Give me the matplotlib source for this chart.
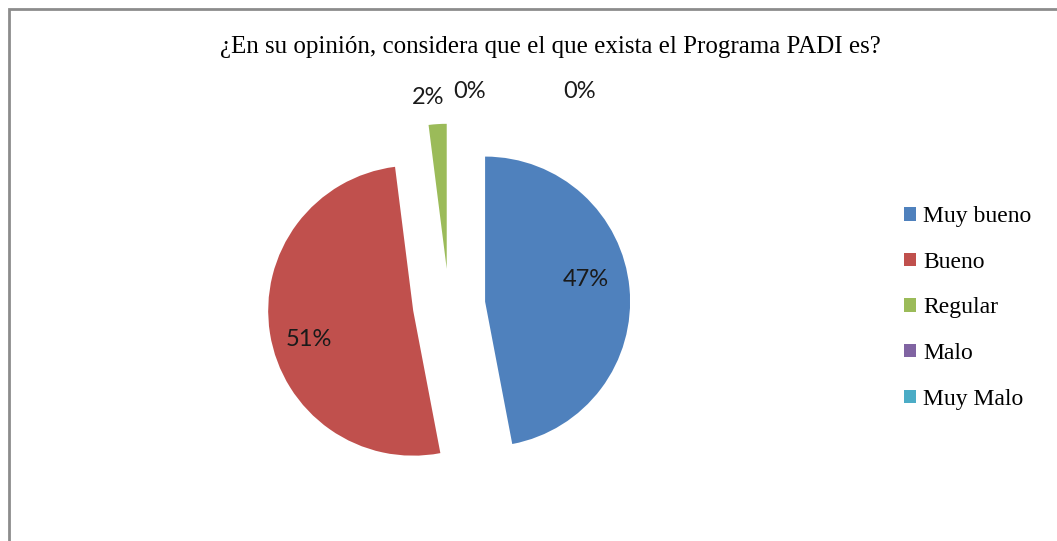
import matplotlib
matplotlib.use("Agg")
import matplotlib.pyplot as plt
from matplotlib.patches import Rectangle

categories = ["Muy bueno", "Bueno", "Regular", "Malo", "Muy Malo"]
values = [47, 51, 2, 0, 0]
pct_labels = ["47%", "51%", "2%", "0%", "0%"]
colors = ["#4F81BD", "#C0504D", "#9BBB59", "#8064A2", "#4BACC6"]
title = "¿En su opinión, considera que el que exista el Programa PADI es?"

W, H = 1057, 541
fig = plt.figure(figsize=(W / 100, H / 100), dpi=100)
cx, cy, R = 449, 305, 145
ax = fig.add_axes([0, 0, 1, 1])

wedges, _ = ax.pie(values, colors=colors, startangle=90, counterclock=False,
                   explode=[0.25] * len(values), radius=1.0,
                   wedgeprops=dict(linewidth=0))
ax.set_xlim(-cx / R, (W - cx) / R)
ax.set_ylim((cy - H) / R, cy / R)
ax.set_aspect("equal")
ax.axis("off")

# percentage labels (positions in pixel space, converted to data units)
label_px = [(586, 280), (309, 340), (428, 97), (470, 92), (580, 92)]
for txt, (px, py) in zip(pct_labels, label_px):
    ax.text((px - cx) / R, (cy - py) / R, txt, ha="center", va="center",
            fontsize=17, family=["Lato", "DejaVu Sans"], color="#1a1a1a")

fig.text(550 / W, 1 - 47 / H, title, ha="center", va="center",
         fontsize=18, family=["Liberation Serif", "DejaVu Serif"], color="black")

leg = fig.legend(wedges, categories, loc="center left",
                 bbox_to_anchor=(895 / W, 1 - 308 / H), frameon=False,
                 prop=dict(family="Liberation Serif", size=17),
                 handlelength=0.5, handleheight=0.5, handletextpad=0.3,
                 labelspacing=1.04, borderaxespad=0)

# outer chart border
fig.patches.append(Rectangle((9 / W, -0.05), 1.1, 1 - 9 / H + 0.05,
                             transform=fig.transFigure, fill=False,
                             edgecolor="#8c8c8c", linewidth=2))

fig.savefig("out.png", dpi=100, facecolor="white")
